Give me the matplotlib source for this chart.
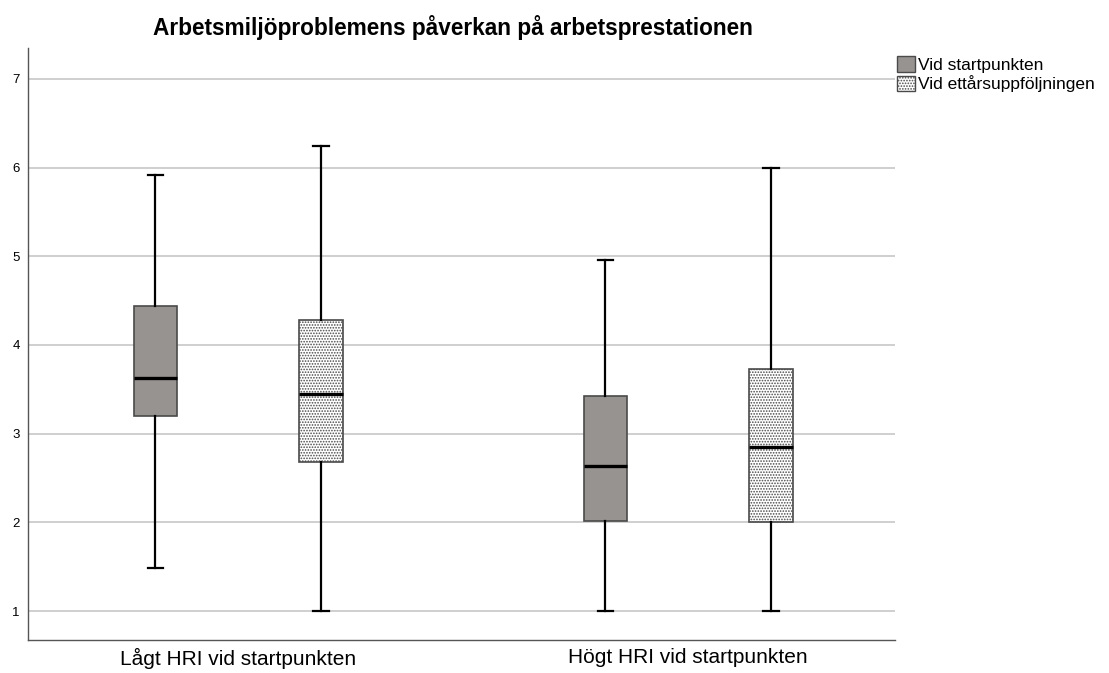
import matplotlib

matplotlib.use("Agg")
import matplotlib.pyplot as plt
from matplotlib.patches import Patch

plt.rcParams["font.family"] = ["Liberation Sans", "DejaVu Sans"]
plt.rcParams["hatch.color"] = "#8a8a8a"
plt.rcParams["hatch.linewidth"] = 0.8

GROUPS = ["Lågt HRI vid startpunkten", "Högt HRI vid startpunkten"]
SERIES = ["Vid startpunkten", "Vid ettårsuppföljningen"]

# five-number summaries per group: [whisker low, Q1, median, Q3, whisker high]
START_STATS = [
    [1.49, 3.20, 3.63, 4.44, 5.92],
    [1.00, 2.02, 2.63, 3.42, 4.96],
]
FOLLOWUP_STATS = [
    [1.00, 2.68, 3.45, 4.28, 6.24],
    [1.00, 2.00, 2.85, 3.73, 6.00],
]


def to_bxp(stats):
    lo, q1, med, q3, hi = stats
    return {"whislo": lo, "q1": q1, "med": med, "q3": q3, "whishi": hi, "fliers": []}


fig = plt.figure(figsize=(11.09, 6.73), dpi=100)
ax = fig.add_axes([0.0252, 0.049, 0.782, 0.88])

offset = 0.184
width = 0.096
common = dict(
    widths=width,
    patch_artist=True,
    showfliers=False,
    medianprops=dict(color="black", linewidth=2.4),
    whiskerprops=dict(color="black", linewidth=1.6),
    capprops=dict(color="black", linewidth=1.6),
    manage_ticks=False,
)

for i in range(len(GROUPS)):
    b1 = ax.bxp([to_bxp(START_STATS[i])], positions=[i - offset], **common)
    for box in b1["boxes"]:
        box.set_facecolor("#979391")
        box.set_edgecolor("#4a4a4a")
        box.set_linewidth(1.2)
    b2 = ax.bxp([to_bxp(FOLLOWUP_STATS[i])], positions=[i + offset], **common)
    for box in b2["boxes"]:
        box.set_facecolor("white")
        box.set_edgecolor("#4a4a4a")
        box.set_linewidth(1.2)
        box.set_hatch("......")
    for cap in b1["caps"] + b2["caps"]:
        x0, x1 = cap.get_xdata()
        mid = (x0 + x1) / 2
        cap.set_xdata([mid - width * 0.18, mid + width * 0.18])

ax.set_xlim(-0.467, 1.46)
ax.set_ylim(0.673, 7.35)
ax.set_yticks(range(1, 8))
ax.set_xticks(range(len(GROUPS)))
ax.set_xticklabels(GROUPS, fontsize=15)
ax.tick_params(axis="x", length=0, pad=6)
ax.tick_params(axis="y", length=0, labelsize=9.5, pad=6)
ax.yaxis.grid(True, color="#cfcfcf", linewidth=1.4)
ax.set_axisbelow(True)
for side in ("top", "right"):
    ax.spines[side].set_visible(False)
for side in ("left", "bottom"):
    ax.spines[side].set_color("#555555")
    ax.spines[side].set_linewidth(1.0)

ax.set_title(
    "Arbetsmiljöproblemens påverkan på arbetsprestationen",
    fontsize=16.3,
    fontweight="bold",
    pad=9,
    x=0.49,
)

handles = [
    Patch(facecolor="#979391", edgecolor="#4a4a4a", label=SERIES[0]),
    Patch(facecolor="white", edgecolor="#4a4a4a", hatch="......", label=SERIES[1]),
]
fig.legend(
    handles=handles,
    loc="upper left",
    bbox_to_anchor=(0.803, 0.927),
    frameon=False,
    fontsize=12.5,
    handlelength=1.0,
    handleheight=1.0,
    handletextpad=0.2,
    labelspacing=0.15,
    borderaxespad=0.0,
)

fig.savefig("out.png", dpi=100)
